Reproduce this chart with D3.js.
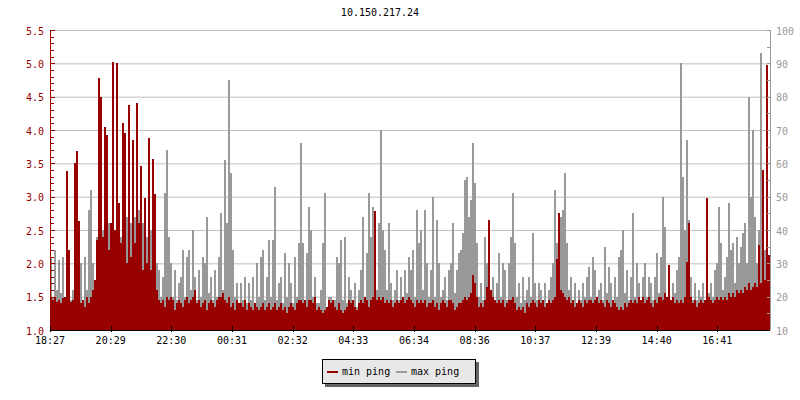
<!DOCTYPE html>
<html><head><meta charset="utf-8">
<script src="https://cdn.jsdelivr.net/npm/d3@7"></script>
<style>body{margin:0;background:#fff}svg text{font-family:"DejaVu Sans Mono",monospace;font-size:10px}</style>
</head><body><svg id="c" width="800" height="400"></svg>
<script>
const title = "10.150.217.24";
const seriesNames = ["min ping", "max ping"];
const xTickLabels = ["18:27","20:29","22:30","00:31","02:32","04:33","06:34","08:36","10:37","12:39","14:40","16:41"];
const leftTicks = [1.0,1.5,2.0,2.5,3.0,3.5,4.0,4.5,5.0,5.5];
const rightTicks = [10,20,30,40,50,60,70,80,90,100];
// min ping (ms, left axis), one sample per 4 minutes
const minPing = [
1.5,1.45,1.5,1.42,1.45, 1.4,1.48,1.5,3.38,2.2, 1.42,1.45,3.5,3.69,2.63, 1.4,1.45,1.35,1.5,1.4,
1.5,1.6,1.75,2.35,4.78, 4.5,2.4,4.05,3.92,2.2, 2.6,5.02,2.5,5.0,2.9, 2.3,4.1,3.95,2.0,4.37,
2.1,3.85,2.3,4.4,2.6, 3.46,1.9,2.98,2.0,3.88, 1.9,3.57,3.04,1.6,1.45, 1.4,1.45,1.35,1.5,1.45,
1.5,1.45,1.3,1.4,1.45, 1.4,1.35,1.45,1.5,1.4, 1.45,1.5,1.6,1.4,1.45, 1.35,1.4,1.45,1.3,1.4,
1.45,1.4,1.35,1.45,1.5, 1.5,1.55,1.45,1.4,1.5, 1.35,1.4,1.3,1.45,1.4, 1.4,1.35,1.45,1.3,1.4,
1.35,1.3,1.4,1.35,1.3, 1.35,1.4,1.3,1.35,1.4, 1.3,1.35,1.4,1.3,1.35, 1.4,1.3,1.35,1.25,1.35,
1.4,1.35,1.3,1.4,1.45, 1.45,1.4,1.45,1.35,1.45, 1.45,1.4,1.5,1.3,1.35, 1.3,1.25,1.3,1.35,1.45,
1.4,1.45,1.35,1.3,1.4, 1.3,1.25,1.3,1.35,1.45, 1.4,1.45,1.35,1.3,1.4, 1.45,1.4,1.5,1.45,1.35,
1.45,1.5,2.78,1.45,1.5, 1.45,1.5,1.4,1.45,1.4, 1.45,1.35,1.4,1.45,1.4, 1.45,1.5,1.4,1.45,1.5,
1.45,1.4,1.35,1.45,1.4, 1.45,1.4,1.45,1.35,1.4, 1.4,1.45,1.35,1.4,1.3, 1.4,1.45,1.4,1.35,1.45,
1.45,1.4,1.3,1.35,1.4, 1.4,1.45,1.5,1.45,1.5, 1.55,1.82,1.7,1.5,1.35, 1.4,1.35,1.45,1.65,2.65,
1.6,1.5,1.45,1.4,1.45, 1.4,1.45,1.35,1.4,1.45, 1.45,1.5,1.4,1.3,1.35, 1.3,1.35,1.25,1.4,1.35,
1.4,1.45,1.4,1.35,1.45, 1.4,1.45,1.35,1.4,1.45, 1.4,1.45,1.5,2.07,2.76, 1.6,1.55,1.5,1.45,1.5,
1.4,1.45,1.35,1.4,1.45, 1.4,1.35,1.45,1.4,1.45, 1.45,1.4,1.45,1.5,1.4, 1.45,1.4,1.35,1.45,1.4,
1.35,1.45,1.4,1.35,1.3, 1.35,1.3,1.4,1.35,1.4, 1.45,1.4,1.45,1.4,1.5, 1.45,1.5,1.4,1.45,1.5,
1.4,1.35,1.45,1.4,1.5, 1.5,1.45,1.55,1.5,1.97, 1.45,1.5,1.4,1.45,1.4, 1.45,1.4,1.5,2.02,2.6,
1.5,1.4,1.45,1.35,1.4, 1.45,1.4,1.45,2.98,1.5, 1.45,1.4,1.45,1.5,1.45, 1.5,1.45,1.5,1.45,1.55,
1.5,1.55,1.5,1.6,1.55, 1.6,1.55,1.65,1.6,1.7, 1.6,1.65,1.7,1.65,2.27, 1.7,3.4,1.75,4.97,2.13];
// max ping (ms, right axis)
const maxPing = [
32,20,34,22,31, 21,32,19,24,30, 19,22,26,20,25, 30,19,32,22,46,
52,30,20,38,30, 48,40,44,36,42, 38,36,40,36,42, 38,46,40,44,36,
42,38,44,40,46, 47,42,40,38,44, 40,40,36,30,28, 20,26,51,64,38,
30,20,28,19,24, 26,34,20,32,34, 22,40,26,19,28, 20,32,30,44,21,
26,19,28,20,32, 45,22,61,42,85, 57,34,20,24,18, 24,19,26,18,24,
19,26,18,30,20, 32,34,19,26,37, 20,37,53,19,24, 26,18,33,20,30,
24,18,32,20,36, 66,36,19,33,47, 40,20,26,18,18, 22,36,51,17,20,
20,17,19,32,30, 37,19,38,18,26, 22,18,24,17,22, 28,44,20,33,51,
38,47,40,22,42, 70,40,34,22,42, 24,19,22,28,19, 26,20,28,21,32,
28,34,20,46,36, 40,22,46,30,20, 28,50,20,43,30, 20,22,26,19,28,
30,42,21,28,33, 34,39,55,56,44, 49,66,54,36,20, 24,19,38,30,32,
22,26,19,24,33, 20,30,28,19,30, 38,51,36,20,24, 18,26,19,22,26,
20,39,24,19,24, 22,19,24,18,22, 26,30,52,36,38, 44,46,57,36,22,
26,19,24,18,22, 19,24,20,26,29, 20,32,28,19,22, 24,19,35,21,29,
24,18,26,20,32, 34,40,21,28,19, 26,45,20,30,24, 19,26,30,20,26,
24,19,26,33,21, 32,50,41,20,26, 19,24,21,28,32, 90,56,40,67,43,
26,19,24,19,22, 20,24,19,26,21, 24,20,28,30,47, 36,22,26,32,48,
34,36,24,38,30, 35,39,42,30,80, 50,70,44,30,40, 93,58,34,22,32];

const RED = "#990000", GREY = "#999999", GRID = "#bfbfbf";
const svg = d3.select("#c");
const M = {l:50, r:770, t:30, b:330};
const start = new Date(2020,0,1,18,27);
const stepMin = 4, tickMin = 121 + 1/3;
const addMin = (d,m) => new Date(d.getTime() + m*60000);
const x = d3.scaleTime().domain([start, addMin(start, 1440)]).range([M.l, M.r]);
const yL = d3.scaleLinear().domain([1, 5.5]).range([M.b, M.t]);
const yR = d3.scaleLinear().domain([10, 100]).range([M.b, M.t]);

svg.append("text").attr("x", 380).attr("y", 16).attr("text-anchor","middle").attr("fill","#000").text(title);

// grid
svg.append("g").selectAll("line").data(leftTicks.slice(1)).join("line")
  .attr("x1", M.l).attr("x2", M.r).attr("y1", d=>yL(d)+0.5).attr("y2", d=>yL(d)+0.5)
  .attr("stroke", GRID).attr("stroke-width",1);

const pts = arr => { const p = arr.map((v,i)=>({t:addMin(start, i*stepMin), v})); p.push({t:addMin(start, arr.length*stepMin), v:arr[arr.length-1]}); return p; };
svg.append("path").datum(pts(maxPing))
  .attr("d", d3.area().curve(d3.curveStepAfter).x(d=>x(d.t)).y0(M.b).y1(d=>yR(d.v)))
  .attr("fill", GREY).attr("shape-rendering","crispEdges");
svg.append("path").datum(pts(minPing))
  .attr("d", d3.area().curve(d3.curveStepAfter).x(d=>x(d.t)).y0(M.b).y1(d=>yL(d.v)))
  .attr("fill", RED).attr("shape-rendering","crispEdges");

// left axis
const la = svg.append("g").attr("shape-rendering","crispEdges");
la.append("line").attr("x1",M.l+0.5).attr("x2",M.l+0.5).attr("y1",M.t).attr("y2",M.b).attr("stroke",RED);
const minorL = d3.range(10, 56).map(d=>d/10);
la.selectAll("line.mi").data(minorL).join("line").attr("class","mi")
  .attr("x1",M.l).attr("x2",d=> (Math.round(d*10)%5===0) ? M.l+5 : M.l+4)
  .attr("y1",d=>Math.round(yL(d))+0.5).attr("y2",d=>Math.round(yL(d))+0.5).attr("stroke",RED);
la.selectAll("text").data(leftTicks).join("text")
  .attr("x", 44).attr("y", d=>yL(d)+4.5).attr("text-anchor","end").attr("fill",RED).text(d=>d3.format(".1f")(d));

// right axis
const ra = svg.append("g").attr("shape-rendering","crispEdges");
ra.append("line").attr("x1",M.r+0.5).attr("x2",M.r+0.5).attr("y1",M.t).attr("y2",M.b).attr("stroke",GREY);
ra.selectAll("line.mi").data(d3.range(10,101,5)).join("line").attr("class","mi")
  .attr("x1",M.r-3).attr("x2",M.r).attr("y1",d=>Math.round(yR(d))+0.5).attr("y2",d=>Math.round(yR(d))+0.5).attr("stroke",GREY);
ra.selectAll("text").data(rightTicks).join("text")
  .attr("x", 776).attr("y", d=>yR(d)+4.5).attr("fill",GREY).text(d=>d);

// x axis
const xa = svg.append("g").attr("shape-rendering","crispEdges");
xa.append("line").attr("x1",M.l).attr("x2",M.r).attr("y1",M.b+0.5).attr("y2",M.b+0.5).attr("stroke","#000");
const xt = xTickLabels.map((lab,k)=>({lab, t:addMin(start, k*tickMin)}));
xa.selectAll("line.tk").data(xt).join("line").attr("class","tk")
  .attr("x1",d=>Math.round(x(d.t))+0.5).attr("x2",d=>Math.round(x(d.t))+0.5)
  .attr("y1",M.b-4).attr("y2",M.b+2).attr("stroke","#000");
xa.selectAll("text").data(xt).join("text")
  .attr("x",d=>x(d.t)).attr("y",344).attr("text-anchor","middle").attr("fill","#000").text(d=>d.lab);

// legend
const lg = svg.append("g");
lg.append("rect").attr("x",325).attr("y",362).attr("width",154).attr("height",25).attr("fill","#666");
lg.append("rect").attr("x",322.5).attr("y",359.5).attr("width",153).attr("height",24).attr("fill","#e8e8e8").attr("stroke","#000");
const items = [{n:seriesNames[0], c:RED, x:327}, {n:seriesNames[1], c:GREY, x:396}];
items.forEach(it=>{
  lg.append("rect").attr("x",it.x).attr("y",371).attr("width",11).attr("height",2).attr("fill",it.c);
  lg.append("text").attr("x",it.x+15).attr("y",375).attr("fill","#000").text(it.n);
});
</script></body></html>
